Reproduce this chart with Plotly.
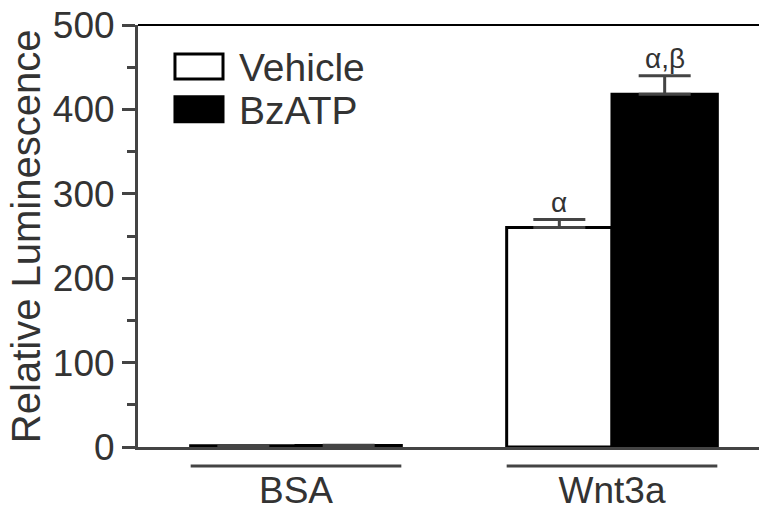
import plotly.graph_objects as go

categories = ["BSA", "Wnt3a"]
vehicle = [1.5, 260]
vehicle_err = [0.3, 9.5]
bzatp = [1.8, 418]
bzatp_err = [0.3, 22]
sig_vehicle = ["", "α"]
sig_bzatp = ["", "α,β"]
y_ticks = [0, 100, 200, 300, 400, 500]
y_title = "Relative Luminescence"

AX = "#444444"
TXT = "#333333"
FONT = "Liberation Sans, Arial, sans-serif"

fig = go.Figure()
fig.add_trace(go.Bar(
    x=categories, y=vehicle, name="Vehicle",
    marker=dict(color="white", line=dict(color="black", width=3)),
    error_y=dict(type="data", array=vehicle_err, arrayminus=[0, 0], symmetric=False,
                 color=AX, thickness=3, width=26),
))
fig.add_trace(go.Bar(
    x=categories, y=bzatp, name="BzATP",
    marker=dict(color="black", line=dict(color="black", width=3)),
    error_y=dict(type="data", array=bzatp_err, arrayminus=[0, 0], symmetric=False,
                 color=AX, thickness=3, width=26),
))

annotations = []
shapes = []
for i, c in enumerate(categories):
    if sig_vehicle[i]:
        annotations.append(dict(x=i - 1/6, y=vehicle[i] + vehicle_err[i], xref="x", yref="y",
                                text=sig_vehicle[i], showarrow=False, yanchor="bottom", yshift=0,
                                font=dict(size=28, color=TXT, family=FONT)))
    if sig_bzatp[i]:
        annotations.append(dict(x=i + 1/6, y=bzatp[i] + bzatp_err[i], xref="x", yref="y",
                                text=sig_bzatp[i], showarrow=False, yanchor="bottom", yshift=0,
                                font=dict(size=28, color=TXT, family=FONT)))
    shapes.append(dict(type="line", xref="x", yref="paper", x0=i - 1/3, x1=i + 1/3,
                       y0=-0.045, y1=-0.045, line=dict(color=AX, width=3)))

# frame: top and right borders
shapes.append(dict(type="line", xref="paper", yref="paper", x0=0, x1=1, y0=1, y1=1,
                   line=dict(color="black", width=2)))
shapes.append(dict(type="line", xref="paper", yref="paper", x0=1, x1=1, y0=0, y1=1,
                   line=dict(color="black", width=3)))

# legend drawn as boxes + text
shapes.append(dict(type="rect", xref="paper", yref="paper", x0=0.0585, x1=0.1345, y0=0.872, y1=0.931,
                   fillcolor="white", line=dict(color="black", width=3)))
shapes.append(dict(type="rect", xref="paper", yref="paper", x0=0.0585, x1=0.1345, y0=0.771, y1=0.830,
                   fillcolor="black", line=dict(color="black", width=3)))
annotations.append(dict(x=0.157, y=0.900, xref="paper", yref="paper", text="Vehicle",
                        showarrow=False, xanchor="left", yanchor="middle",
                        font=dict(size=39, color=TXT, family=FONT)))
annotations.append(dict(x=0.157, y=0.798, xref="paper", yref="paper", text="BzATP",
                        showarrow=False, xanchor="left", yanchor="middle",
                        font=dict(size=39, color=TXT, family=FONT)))

# y-axis title as rotated text
annotations.append(dict(x=-0.177, y=0.5, xref="paper", yref="paper", text=y_title,
                        textangle=-90, showarrow=False, xanchor="center", yanchor="middle",
                        font=dict(size=40, color=TXT, family=FONT)))

fig.update_layout(
    width=767, height=509,
    margin=dict(l=130, r=5, t=17, b=70),
    paper_bgcolor="white", plot_bgcolor="white",
    barmode="group", bargap=1/3, bargroupgap=0,
    showlegend=False,
    font=dict(family=FONT, color=TXT),
    annotations=annotations, shapes=shapes,
)
fig.update_xaxes(
    range=[-0.5, 1.5], showline=True, linecolor=AX, linewidth=3,
    ticks="", showgrid=False, zeroline=False, automargin=False,
    ticklabeloverflow="allow",
    tickfont=dict(size=37, color=TXT, family=FONT), ticklabelstandoff=9,
)
fig.update_yaxes(
    range=[0, 500], tickvals=y_ticks, showline=True, linecolor=AX, linewidth=3,
    ticks="outside", ticklen=13, tickwidth=3, tickcolor=AX,
    minor=dict(dtick=50, ticks="outside", ticklen=8, tickwidth=3, tickcolor=AX),
    showgrid=False, zeroline=False, automargin=False,
    ticklabeloverflow="allow",
    tickfont=dict(size=37, color=TXT, family=FONT),
)
fig.write_html("out.html")
